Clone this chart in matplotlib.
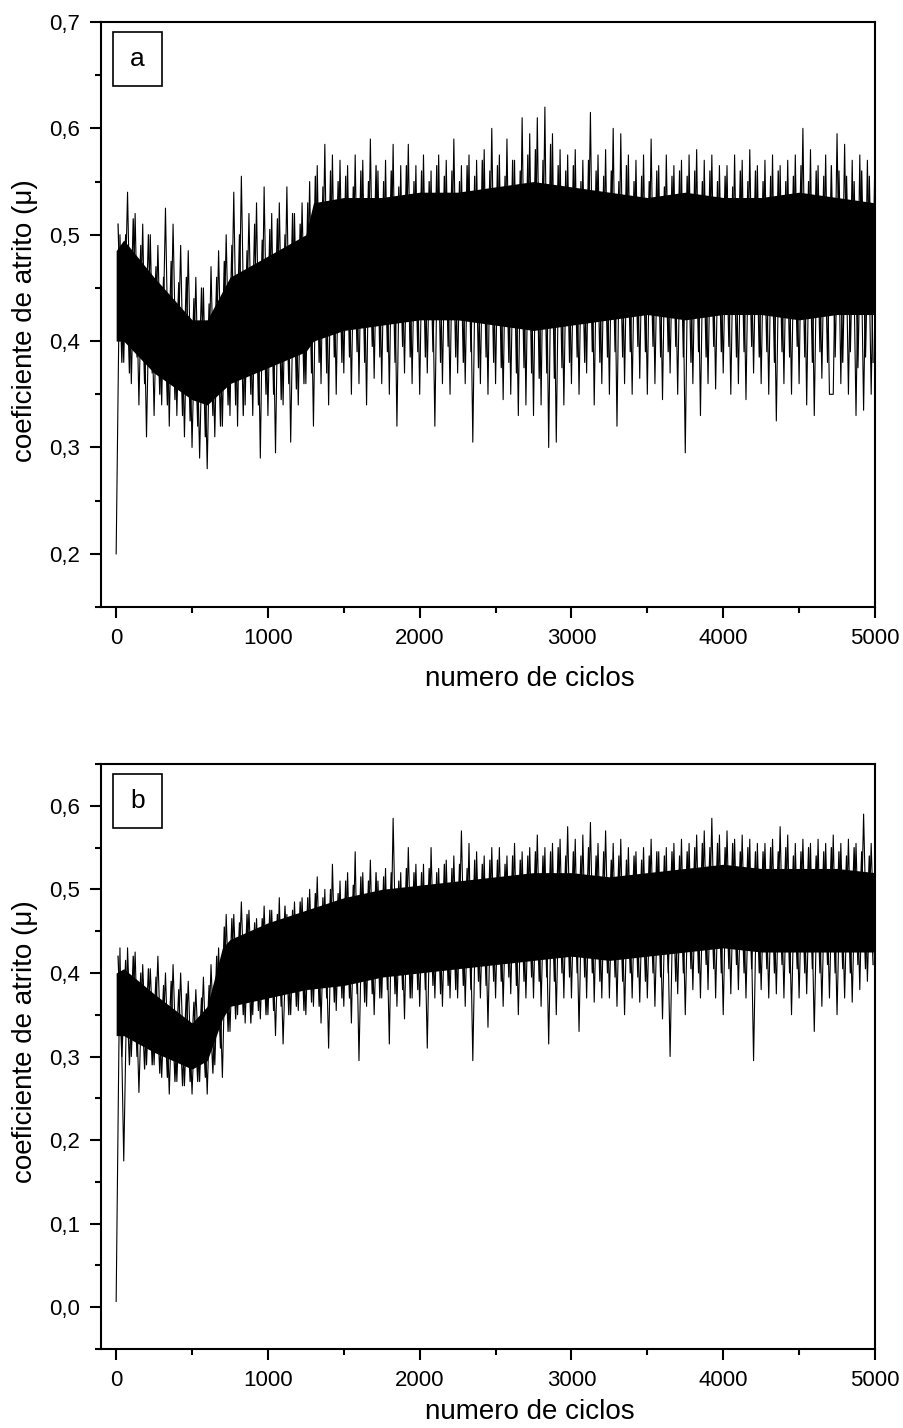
import numpy as np
import matplotlib

matplotlib.use("Agg")
import matplotlib.pyplot as plt
from matplotlib.patches import Rectangle
from matplotlib.ticker import FixedLocator, FixedFormatter

plt.rcParams["font.family"] = ["Liberation Sans", "DejaVu Sans"]

# the trace is stored as two interleaved sample sets (25-cycle step, offset by 12.5)
cycles = np.arange(0, 5001, 25)
cycles_mid = np.arange(12.5, 5000, 25)

# panel a: large peaks / troughs
mu_a = [
    0.20, 0.50, 0.38, 0.54, 0.36, 0.52, 0.34, 0.51, 0.31, 0.50,
    0.33, 0.49, 0.34, 0.525, 0.32, 0.51, 0.33, 0.49, 0.31, 0.485,
    0.30, 0.46, 0.29, 0.45, 0.28, 0.47, 0.31, 0.485, 0.32, 0.50,
    0.33, 0.54, 0.32, 0.555, 0.34, 0.52, 0.33, 0.53, 0.29, 0.545,
    0.33, 0.52, 0.295, 0.53, 0.34, 0.545, 0.305, 0.52, 0.34, 0.53,
    0.36, 0.55, 0.32, 0.565, 0.36, 0.585, 0.34, 0.575, 0.35, 0.57,
    0.37, 0.565, 0.35, 0.575, 0.36, 0.57, 0.34, 0.59, 0.365, 0.56,
    0.36, 0.57, 0.35, 0.585, 0.32, 0.565, 0.37, 0.585, 0.36, 0.565,
    0.35, 0.575, 0.37, 0.56, 0.32, 0.575, 0.36, 0.57, 0.35, 0.59,
    0.37, 0.565, 0.36, 0.575, 0.305, 0.57, 0.36, 0.58, 0.35, 0.60,
    0.36, 0.575, 0.345, 0.59, 0.35, 0.57, 0.33, 0.61, 0.34, 0.595,
    0.33, 0.61, 0.34, 0.62, 0.30, 0.595, 0.305, 0.58, 0.34, 0.575,
    0.36, 0.58, 0.35, 0.57, 0.37, 0.615, 0.34, 0.575, 0.36, 0.58,
    0.35, 0.60, 0.32, 0.595, 0.36, 0.575, 0.35, 0.57, 0.365, 0.575,
    0.35, 0.59, 0.36, 0.565, 0.345, 0.575, 0.37, 0.565, 0.35, 0.57,
    0.295, 0.575, 0.36, 0.58, 0.33, 0.57, 0.36, 0.575, 0.355, 0.565,
    0.37, 0.565, 0.35, 0.575, 0.36, 0.57, 0.345, 0.58, 0.37, 0.565,
    0.36, 0.57, 0.35, 0.575, 0.325, 0.565, 0.36, 0.57, 0.35, 0.575,
    0.36, 0.60, 0.34, 0.58, 0.33, 0.565, 0.365, 0.575, 0.35, 0.35,
    0.595, 0.36, 0.585, 0.35, 0.57, 0.33, 0.575, 0.335, 0.57, 0.35,
    0.58,
]
# panel a: smaller fluctuations at the band edges
mu_a_mid = [
    0.51, 0.38, 0.50, 0.37, 0.515, 0.385, 0.49, 0.36, 0.50, 0.37,
    0.47, 0.35, 0.46, 0.34, 0.475, 0.345, 0.455, 0.33, 0.46, 0.325,
    0.44, 0.32, 0.45, 0.31, 0.435, 0.33, 0.46, 0.32, 0.475, 0.34,
    0.49, 0.34, 0.50, 0.33, 0.485, 0.35, 0.51, 0.34, 0.495, 0.35,
    0.505, 0.35, 0.515, 0.345, 0.50, 0.36, 0.52, 0.355, 0.51, 0.36,
    0.53, 0.37, 0.555, 0.38, 0.545, 0.37, 0.56, 0.385, 0.55, 0.38,
    0.555, 0.385, 0.545, 0.39, 0.56, 0.38, 0.55, 0.395, 0.565, 0.385,
    0.55, 0.39, 0.56, 0.38, 0.545, 0.395, 0.565, 0.385, 0.55, 0.39,
    0.56, 0.385, 0.55, 0.39, 0.565, 0.38, 0.555, 0.395, 0.56, 0.385,
    0.55, 0.38, 0.565, 0.39, 0.555, 0.375, 0.57, 0.385, 0.56, 0.38,
    0.565, 0.375, 0.555, 0.38, 0.57, 0.37, 0.56, 0.375, 0.575, 0.37,
    0.58, 0.365, 0.57, 0.37, 0.585, 0.365, 0.565, 0.375, 0.56, 0.38,
    0.565, 0.385, 0.55, 0.38, 0.57, 0.39, 0.56, 0.38, 0.555, 0.385,
    0.56, 0.39, 0.55, 0.385, 0.565, 0.39, 0.55, 0.395, 0.555, 0.39,
    0.55, 0.395, 0.56, 0.385, 0.545, 0.39, 0.555, 0.395, 0.56, 0.385,
    0.555, 0.38, 0.56, 0.39, 0.55, 0.385, 0.56, 0.395, 0.55, 0.39,
    0.555, 0.395, 0.545, 0.385, 0.56, 0.39, 0.55, 0.395, 0.56, 0.385,
    0.55, 0.39, 0.555, 0.38, 0.56, 0.39, 0.55, 0.385, 0.555, 0.395,
    0.565, 0.385, 0.55, 0.38, 0.56, 0.39, 0.555, 0.38, 0.565, 0.385,
    0.56, 0.38, 0.555, 0.39, 0.55, 0.375, 0.56, 0.385, 0.555, 0.38,
]

# panel b: large peaks / troughs
mu_b = [
    0.007, 0.43, 0.175, 0.43, 0.30, 0.425, 0.257, 0.41, 0.29, 0.405,
    0.29, 0.42, 0.275, 0.40, 0.255, 0.41, 0.27, 0.40, 0.265, 0.39,
    0.255, 0.38, 0.27, 0.395, 0.255, 0.41, 0.29, 0.43, 0.275, 0.47,
    0.33, 0.47, 0.35, 0.485, 0.34, 0.475, 0.35, 0.465, 0.345, 0.48,
    0.35, 0.475, 0.325, 0.49, 0.315, 0.47, 0.35, 0.485, 0.355, 0.49,
    0.35, 0.50, 0.36, 0.515, 0.34, 0.50, 0.31, 0.53, 0.355, 0.51,
    0.36, 0.52, 0.34, 0.545, 0.295, 0.52, 0.36, 0.535, 0.35, 0.51,
    0.37, 0.525, 0.315, 0.585, 0.36, 0.52, 0.345, 0.55, 0.37, 0.53,
    0.36, 0.53, 0.31, 0.55, 0.37, 0.525, 0.36, 0.535, 0.37, 0.54,
    0.37, 0.57, 0.36, 0.555, 0.295, 0.545, 0.37, 0.54, 0.335, 0.55,
    0.37, 0.55, 0.36, 0.54, 0.375, 0.555, 0.35, 0.545, 0.37, 0.55,
    0.37, 0.565, 0.36, 0.55, 0.315, 0.555, 0.35, 0.56, 0.37, 0.575,
    0.37, 0.56, 0.33, 0.565, 0.37, 0.58, 0.365, 0.555, 0.37, 0.57,
    0.37, 0.555, 0.36, 0.56, 0.35, 0.55, 0.37, 0.545, 0.365, 0.55,
    0.37, 0.56, 0.36, 0.545, 0.345, 0.55, 0.30, 0.555, 0.375, 0.56,
    0.35, 0.555, 0.38, 0.565, 0.37, 0.57, 0.38, 0.585, 0.37, 0.565,
    0.35, 0.57, 0.375, 0.56, 0.38, 0.565, 0.37, 0.56, 0.295, 0.555,
    0.38, 0.555, 0.37, 0.56, 0.375, 0.575, 0.37, 0.565, 0.35, 0.555,
    0.37, 0.56, 0.375, 0.555, 0.33, 0.56, 0.36, 0.555, 0.37, 0.565,
    0.35, 0.555, 0.37, 0.56, 0.365, 0.555, 0.38, 0.59, 0.39, 0.555,
    0.40,
]
# panel b: smaller fluctuations at the band edges
mu_b_mid = [
    0.42, 0.30, 0.415, 0.29, 0.42, 0.30, 0.40, 0.285, 0.405, 0.29,
    0.395, 0.28, 0.385, 0.275, 0.39, 0.27, 0.38, 0.265, 0.375, 0.27,
    0.365, 0.27, 0.37, 0.275, 0.385, 0.28, 0.42, 0.31, 0.455, 0.33,
    0.465, 0.345, 0.46, 0.35, 0.47, 0.34, 0.46, 0.355, 0.465, 0.35,
    0.475, 0.355, 0.47, 0.36, 0.48, 0.35, 0.475, 0.36, 0.485, 0.355,
    0.49, 0.365, 0.495, 0.36, 0.49, 0.37, 0.50, 0.365, 0.495, 0.37,
    0.51, 0.37, 0.505, 0.375, 0.515, 0.365, 0.51, 0.375, 0.52, 0.37,
    0.515, 0.38, 0.52, 0.375, 0.51, 0.38, 0.525, 0.37, 0.52, 0.38,
    0.52, 0.38, 0.525, 0.385, 0.52, 0.375, 0.53, 0.385, 0.525, 0.38,
    0.53, 0.385, 0.525, 0.38, 0.535, 0.39, 0.53, 0.385, 0.535, 0.39,
    0.535, 0.39, 0.53, 0.395, 0.54, 0.385, 0.535, 0.39, 0.54, 0.395,
    0.545, 0.39, 0.54, 0.395, 0.545, 0.39, 0.55, 0.40, 0.54, 0.395,
    0.545, 0.40, 0.54, 0.395, 0.55, 0.40, 0.54, 0.39, 0.545, 0.40,
    0.535, 0.395, 0.54, 0.39, 0.535, 0.40, 0.54, 0.395, 0.535, 0.39,
    0.54, 0.40, 0.545, 0.395, 0.54, 0.40, 0.545, 0.39, 0.54, 0.40,
    0.545, 0.405, 0.55, 0.40, 0.555, 0.41, 0.55, 0.405, 0.555, 0.40,
    0.55, 0.405, 0.555, 0.41, 0.545, 0.40, 0.55, 0.405, 0.545, 0.40,
    0.545, 0.405, 0.55, 0.40, 0.545, 0.41, 0.55, 0.40, 0.54, 0.405,
    0.545, 0.40, 0.55, 0.405, 0.54, 0.40, 0.545, 0.41, 0.55, 0.40,
    0.545, 0.405, 0.54, 0.40, 0.55, 0.41, 0.545, 0.405, 0.54, 0.41,
]

# dense core of the noise band (upper / lower edge)
core_x_a = [0, 50, 250, 500, 600, 750, 1000, 1250, 1300, 1500, 1750, 2000,
            2250, 2500, 2750, 3000, 3250, 3500, 3750, 4000, 4250, 4500, 4750, 5000]
core_hi_a = [0.485, 0.495, 0.46, 0.42, 0.42, 0.46, 0.48, 0.50, 0.53, 0.535, 0.535, 0.54,
             0.54, 0.545, 0.55, 0.545, 0.54, 0.535, 0.54, 0.535, 0.535, 0.54, 0.535, 0.53]
core_lo_a = [0.40, 0.40, 0.37, 0.345, 0.34, 0.36, 0.375, 0.39, 0.40, 0.41, 0.415, 0.42,
             0.42, 0.415, 0.41, 0.415, 0.42, 0.425, 0.42, 0.425, 0.425, 0.42, 0.425, 0.425]

core_x_b = [0, 50, 250, 500, 600, 700, 750, 1000, 1250, 1500, 1750, 2000,
            2250, 2500, 2750, 3000, 3250, 3500, 3750, 4000, 4250, 4500, 4750, 5000]
core_hi_b = [0.40, 0.405, 0.375, 0.34, 0.36, 0.43, 0.44, 0.46, 0.475, 0.49, 0.50, 0.505,
             0.51, 0.515, 0.52, 0.52, 0.515, 0.52, 0.525, 0.53, 0.525, 0.525, 0.525, 0.52]
core_lo_b = [0.325, 0.325, 0.305, 0.285, 0.295, 0.345, 0.36, 0.37, 0.38, 0.385, 0.395, 0.40,
             0.405, 0.41, 0.415, 0.42, 0.415, 0.42, 0.425, 0.43, 0.425, 0.425, 0.425, 0.425]

x_major = [0, 1000, 2000, 3000, 4000, 5000]
x_minor = [500, 1500, 2500, 3500, 4500]
y_major_a = [0.2, 0.3, 0.4, 0.5, 0.6, 0.7]
y_labels_a = ["0,2", "0,3", "0,4", "0,5", "0,6", "0,7"]
y_minor_a = [0.15, 0.25, 0.35, 0.45, 0.55, 0.65]
y_major_b = [0.0, 0.1, 0.2, 0.3, 0.4, 0.5, 0.6]
y_labels_b = ["0,0", "0,1", "0,2", "0,3", "0,4", "0,5", "0,6"]
y_minor_b = [-0.05, 0.05, 0.15, 0.25, 0.35, 0.45, 0.55, 0.65]

fig = plt.figure(figsize=(9.04, 14.28), dpi=100)
ax_a = fig.add_axes([0.1117, 0.5749, 0.8562, 0.4097])
ax_b = fig.add_axes([0.1117, 0.0553, 0.8562, 0.4097])


def style_panel(ax, core_x, hi, lo, mu, mu_mid, ylim, ymaj, ylab, ymin, tag, xlab_y, ylab_y):
    ax.fill_between(core_x, lo, hi, color="black", lw=0)
    ax.plot(cycles_mid, mu_mid, color="black", lw=0.9)
    ax.plot(cycles, mu, color="black", lw=0.8)
    ax.set_xlim(-100, 5000)
    ax.set_ylim(*ylim)
    ax.xaxis.set_major_locator(FixedLocator(x_major))
    ax.xaxis.set_minor_locator(FixedLocator(x_minor))
    ax.yaxis.set_major_locator(FixedLocator(ymaj))
    ax.yaxis.set_major_formatter(FixedFormatter(ylab))
    ax.yaxis.set_minor_locator(FixedLocator(ymin))
    ax.tick_params(which="major", direction="out", length=8, width=1.5, labelsize=16, pad=7)
    ax.tick_params(which="minor", direction="out", length=4.5, width=1.5)
    for s in ax.spines.values():
        s.set_linewidth(1.5)
    ax.set_xlabel("numero de ciclos", fontsize=20)
    ax.xaxis.set_label_coords(0.554, xlab_y)
    ax.set_ylabel("coeficiente de atrito (\u03bc)", fontsize=20)
    ax.yaxis.set_label_coords(-0.082, ylab_y)
    ax.add_patch(Rectangle((0.0155, 0.891), 0.0635, 0.092, transform=ax.transAxes,
                           fill=False, lw=1.2, ec="black"))
    ax.text(0.047, 0.937, tag, transform=ax.transAxes, ha="center", va="center", fontsize=19)


style_panel(ax_a, core_x_a, core_hi_a, core_lo_a, mu_a, mu_a_mid, (0.15, 0.70),
            y_major_a, y_labels_a, y_minor_a, "a", -0.100, 0.49)
style_panel(ax_b, core_x_b, core_hi_b, core_lo_b, mu_b, mu_b_mid, (-0.05, 0.65),
            y_major_b, y_labels_b, y_minor_b, "b", -0.085, 0.525)

fig.savefig("out.png", dpi=100, facecolor="white")
